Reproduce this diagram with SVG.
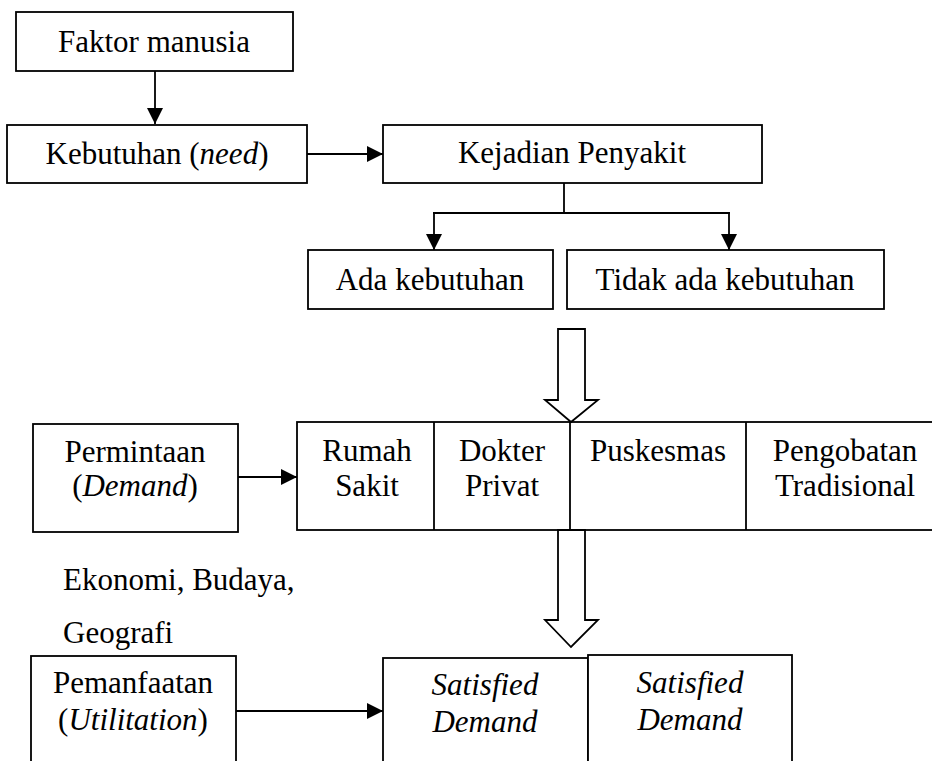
<svg xmlns="http://www.w3.org/2000/svg" width="932" height="761" viewBox="0 0 932 761">
<style>
.box{fill:#fff;stroke:#000;stroke-width:1.8}
.t{font-size:31px;fill:#000}
.m{text-anchor:middle}
.i{font-style:italic}
.ln{fill:none;stroke:#000;stroke-width:1.8}
.big{fill:#fff;stroke:#000;stroke-width:1.8;stroke-linejoin:miter}
</style>
<defs>
<marker id="ah" markerUnits="userSpaceOnUse" markerWidth="16" markerHeight="16" viewBox="0 0 16 16" refX="16" refY="8" orient="auto">
<path d="M0,0 L16,8 L0,16 Z" fill="#000"/>
</marker>
</defs>
<rect width="932" height="761" fill="#fff"/>
<g font-family="Liberation Serif, Tinos, Times New Roman, serif">
<g id="faktor"><rect class="box" x="16" y="12" width="277" height="59"/><text class="t m" x="154" y="52">Faktor manusia</text></g>
<g id="kebutuhan"><rect class="box" x="7" y="125" width="300" height="58"/><text class="t m" x="157" y="164">Kebutuhan (<tspan class="i">need</tspan>)</text></g>
<g id="kejadian"><rect class="box" x="383" y="125" width="379" height="58"/><text class="t m" x="572" y="163">Kejadian Penyakit</text></g>
<g id="ada"><rect class="box" x="308" y="250" width="245" height="59"/><text class="t m" x="430" y="290">Ada kebutuhan</text></g>
<g id="tidak"><rect class="box" x="567" y="250" width="317" height="59"/><text class="t m" x="725" y="290">Tidak ada kebutuhan</text></g>
<g id="permintaan"><rect class="box" x="33" y="424" width="205" height="108"/><text class="t m" x="135" y="462">Permintaan</text><text class="t m" x="135" y="496">(<tspan class="i">Demand</tspan>)</text></g>
<g id="providers">
<rect class="box" x="297" y="422" width="660" height="108"/>
<line class="ln" x1="434" y1="422" x2="434" y2="530"/>
<line class="ln" x1="570" y1="422" x2="570" y2="530"/>
<line class="ln" x1="746" y1="422" x2="746" y2="530"/>
<text class="t m" x="367" y="461">Rumah</text><text class="t m" x="367" y="496">Sakit</text>
<text class="t m" x="502" y="461">Dokter</text><text class="t m" x="502" y="496">Privat</text>
<text class="t m" x="658" y="461">Puskesmas</text>
<text class="t m" x="845" y="461">Pengobatan</text><text class="t m" x="845" y="496">Tradisional</text>
</g>
<g id="faktor-lain"><text class="t" x="63" y="590">Ekonomi, Budaya,</text><text class="t" x="63" y="643">Geografi</text></g>
<g id="pemanfaatan"><rect class="box" x="31" y="656" width="205" height="120"/><text class="t m" x="133" y="693">Pemanfaatan</text><text class="t m" x="133" y="730">(<tspan class="i">Utilitation</tspan>)</text></g>
<g id="satisfied1"><rect class="box" x="383" y="658" width="205" height="120"/><text class="t m i" x="485" y="695">Satisfied</text><text class="t m i" x="485" y="732">Demand</text></g>
<g id="satisfied2"><rect class="box" x="588" y="655" width="204" height="120"/><text class="t m i" x="690" y="693">Satisfied</text><text class="t m i" x="690" y="730">Demand</text></g>
</g>
<g id="connectors">
<line class="ln" x1="155" y1="71" x2="155" y2="124" marker-end="url(#ah)"/>
<line class="ln" x1="307" y1="154" x2="383" y2="154" marker-end="url(#ah)"/>
<polyline class="ln" points="564,183 564,213"/>
<line class="ln" x1="433" y1="213" x2="730" y2="213"/>
<line class="ln" x1="434" y1="213" x2="434" y2="250" marker-end="url(#ah)"/>
<line class="ln" x1="729" y1="213" x2="729" y2="250" marker-end="url(#ah)"/>
<path class="big" d="M558,329 L585,329 L585,400 L598,400 L571,422 L545,400 L558,400 Z"/>
<line class="ln" x1="238" y1="477" x2="297" y2="477" marker-end="url(#ah)"/>
<path class="big" d="M558,530 L585,530 L585,620 L598,620 L571,647 L545,620 L558,620 Z"/>
<line class="ln" x1="236" y1="711" x2="383" y2="711" marker-end="url(#ah)"/>
</g>
</svg>
